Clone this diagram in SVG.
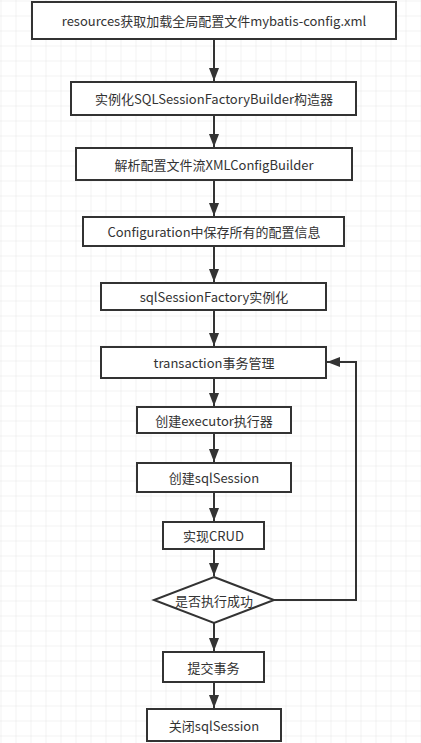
<svg xmlns="http://www.w3.org/2000/svg" width="421" height="743" viewBox="0 0 421 743">
<defs>
<pattern id="grid" width="15" height="15" patternUnits="userSpaceOnUse" x="0.5" y="0.5">
<path d="M15 0 L0 0 L0 15" fill="none" stroke="#e6e6e6" stroke-width="1"/>
</pattern>
<marker id="arr" markerUnits="userSpaceOnUse" markerWidth="13" markerHeight="10" refX="13" refY="5" orient="auto">
<path d="M0,0 L13,5 L0,10 z" fill="#333"/>
</marker>
</defs>
<style>
.box{fill:#fff;stroke:#333;stroke-width:2}
.t{font-family:"Microsoft YaHei","Noto Sans CJK SC",sans-serif;font-size:13px;fill:#333;text-anchor:middle;dominant-baseline:central}
.c{fill:none;stroke:#333;stroke-width:2;marker-end:url(#arr)}
</style>
<rect width="421" height="743" fill="#fff"/>
<rect width="421" height="743" fill="url(#grid)"/>
<g id="connectors">
<path class="c" d="M214,39 L214,81"/>
<path class="c" d="M214,115 L214,147"/>
<path class="c" d="M214,180 L214,216"/>
<path class="c" d="M214,246 L214,282"/>
<path class="c" d="M214,310 L214,346"/>
<path class="c" d="M214,378 L214,406"/>
<path class="c" d="M214,433 L214,462"/>
<path class="c" d="M214,492 L214,521"/>
<path class="c" d="M214,549 L214,576"/>
<path class="c" d="M214,623 L214,651"/>
<path class="c" d="M214,682 L214,708"/>
<path class="c" d="M274,600 L356,600 L356,362 L327,362"/>
</g>
<g id="n1"><rect class="box" x="32" y="2" width="364" height="37"/><text class="t" x="214" y="20.5">resources获取加载全局配置文件mybatis-config.xml</text></g>
<g id="n2"><rect class="box" x="71" y="82" width="285" height="33"/><text class="t" x="214" y="98.5">实例化SQLSessionFactoryBuilder构造器</text></g>
<g id="n3"><rect class="box" x="76" y="148" width="276" height="32"/><text class="t" x="214" y="164">解析配置文件流XMLConfigBuilder</text></g>
<g id="n4"><rect class="box" x="83" y="217" width="261" height="29"/><text class="t" x="214" y="231.5">Configuration中保存所有的配置信息</text></g>
<g id="n5"><rect class="box" x="101" y="283" width="225" height="27"/><text class="t" x="214" y="296.5">sqlSessionFactory实例化</text></g>
<g id="n6"><rect class="box" x="101" y="347" width="225" height="31"/><text class="t" x="214" y="362.5">transaction事务管理</text></g>
<g id="n7"><rect class="box" x="137" y="407" width="154" height="26"/><text class="t" x="214" y="420">创建executor执行器</text></g>
<g id="n8"><rect class="box" x="137" y="463" width="154" height="29"/><text class="t" x="214" y="477.5">创建sqlSession</text></g>
<g id="n9"><rect class="box" x="163" y="522" width="101" height="27"/><text class="t" x="213.5" y="535.5">实现CRUD</text></g>
<g id="n10"><path class="box" d="M214,577 L274,600 L214,623 L154,600 z"/><text class="t" x="214" y="600">是否执行成功</text></g>
<g id="n11"><rect class="box" x="163" y="652" width="101" height="30"/><text class="t" x="213.5" y="667">提交事务</text></g>
<g id="n12"><rect class="box" x="147" y="709" width="134" height="32"/><text class="t" x="214" y="725">关闭sqlSession</text></g>
</svg>
